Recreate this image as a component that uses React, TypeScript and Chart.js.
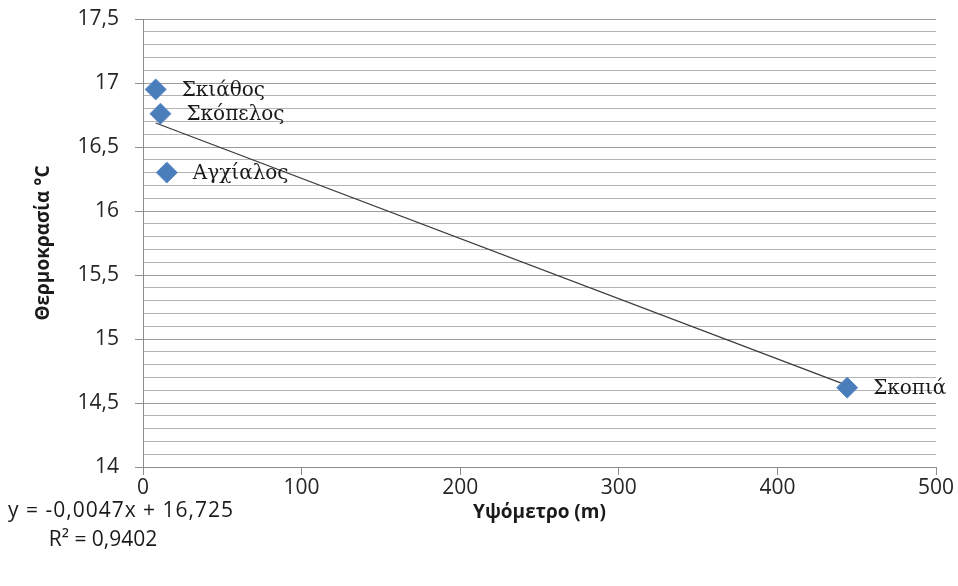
import React, { useEffect, useRef } from "react";
import { Chart, registerables } from "chart.js";

Chart.register(...registerables);

const stations = ["Σκιάθος", "Σκόπελος", "Αγχίαλος", "Σκοπιά"];
const altitudes = [8, 11, 15, 444];
const temperatures = [16.95, 16.76, 16.3, 14.62];
const trendSlope = -0.0047;
const trendIntercept = 16.725;
const equationText = "y = -0,0047x + 16,725";
const r2Text = "R² = 0,9402";
const xTitle = "Υψόμετρο (m)";
const yTitle = "Θερμοκρασία °C";

const TICK_FONT = "'Open Sans', sans-serif";

const labelsPlugin = {
  id: "pointLabels",
  afterDatasetsDraw(chart: any) {
    const ctx = chart.ctx;
    const meta = chart.getDatasetMeta(0);
    ctx.save();
    ctx.font = "20px 'DejaVu Serif', serif";
    ctx.fillStyle = "#1a1a1a";
    ctx.textBaseline = "middle";
    ctx.textAlign = "left";
    meta.data.forEach((pt: any, i: number) => {
      ctx.fillText(stations[i], pt.x + 26, pt.y + 1);
    });
    ctx.restore();
  },
  afterDraw(chart: any) {
    const ctx = chart.ctx;
    const area = chart.chartArea;
    ctx.save();
    ctx.font = `21px ${TICK_FONT}`;
    ctx.fillStyle = "#1a1a1a";
    ctx.textBaseline = "middle";
    ctx.textAlign = "left";
    (ctx as any).letterSpacing = "1px";
    ctx.fillText(equationText, area.left - 135, area.bottom + 44);
    (ctx as any).letterSpacing = "0px";
    ctx.textAlign = "center";
    ctx.fillText(r2Text, area.left - 40, area.bottom + 73);
    ctx.restore();
  },
};

export default function App() {
  const ref = useRef<HTMLCanvasElement | null>(null);
  useEffect(() => {
    if (!ref.current) return;
    const xs = altitudes;
    const xMin = Math.min(...xs);
    const xMax = Math.max(...xs);
    const trend = [
      { x: xMin, y: trendSlope * xMin + trendIntercept },
      { x: xMax, y: trendSlope * xMax + trendIntercept },
    ];
    const isMajor = (v: number) => Math.abs(v * 2 - Math.round(v * 2)) < 1e-6;
    const chart = new Chart(ref.current, {
      type: "scatter",
      data: {
        datasets: [
          {
            label: "Θερμοκρασία",
            data: altitudes.map((a, i) => ({ x: a, y: temperatures[i] })),
            backgroundColor: "#4a7ebb",
            borderColor: "#5b8cc8",
            borderWidth: 1,
            pointStyle: "rectRot",
            pointRadius: 10.5,
            order: 1,
          },
          {
            label: "Τάση",
            type: "line",
            data: trend,
            borderColor: "#3a3a3a",
            borderWidth: 1.3,
            pointRadius: 0,
            showLine: true,
            fill: false,
            order: 2,
          } as any,
        ],
      },
      options: {
        responsive: false,
        animation: false,
        layout: { padding: { left: 0, right: 22, top: 19, bottom: 0 } },
        plugins: {
          legend: { display: false },
          tooltip: { enabled: false },
        },
        scales: {
          x: {
            type: "linear",
            min: 0,
            max: 500,
            ticks: {
              stepSize: 100,
              color: "#262626",
              font: { family: TICK_FONT, size: 21 },
              padding: 0,
            },
            grid: {
              drawOnChartArea: false,
              drawTicks: true,
              tickLength: 8,
              tickColor: "#8c8c8c",
            },
            border: { color: "#8c8c8c", width: 1 },
            title: {
              display: true,
              text: xTitle,
              color: "#1a1a1a",
              font: { family: TICK_FONT, size: 19, weight: "bold" },
              padding: { top: 0, bottom: 62 },
            },
            afterFit(scale: any) {
              scale.height = 119;
              scale.paddingLeft = 0;
              scale.paddingRight = 0;
            },
          },
          y: {
            type: "linear",
            min: 14,
            max: 17.5,
            ticks: {
              stepSize: 0.1,
              autoSkip: false,
              color: "#262626",
              font: { family: TICK_FONT, size: 21 },
              padding: 16,
              callback: (v: any) => {
                const n = Number(v);
                if (!isMajor(n)) return "";
                return String(Math.round(n * 2) / 2).replace(".", ",");
              },
            },
            grid: {
              color: (c: any) => (isMajor(c.tick?.value ?? 0) ? "#9a9a9a" : "#b4b4b4"),
              tickColor: (c: any) => (isMajor(c.tick?.value ?? 0) ? "#8c8c8c" : "rgba(0,0,0,0)"),
              tickLength: 8,
              lineWidth: 1,
            },
            border: { color: "#8c8c8c", width: 1 },
            title: {
              display: true,
              text: yTitle,
              color: "#1a1a1a",
              font: { family: TICK_FONT, size: 19, weight: "bold" },
              padding: { top: 32, bottom: 0 },
            },
            afterFit(scale: any) {
              scale.width = 143;
              scale.paddingTop = 0;
              scale.paddingBottom = 0;
            },
          },
        },
      },
      plugins: [labelsPlugin],
    });
    return () => chart.destroy();
  }, []);
  return (
    <div style={{ position: "absolute", left: 0, top: 0, width: 958, height: 586, background: "#fff" }}>
      <canvas ref={ref} width={958} height={586} />
    </div>
  );
}
